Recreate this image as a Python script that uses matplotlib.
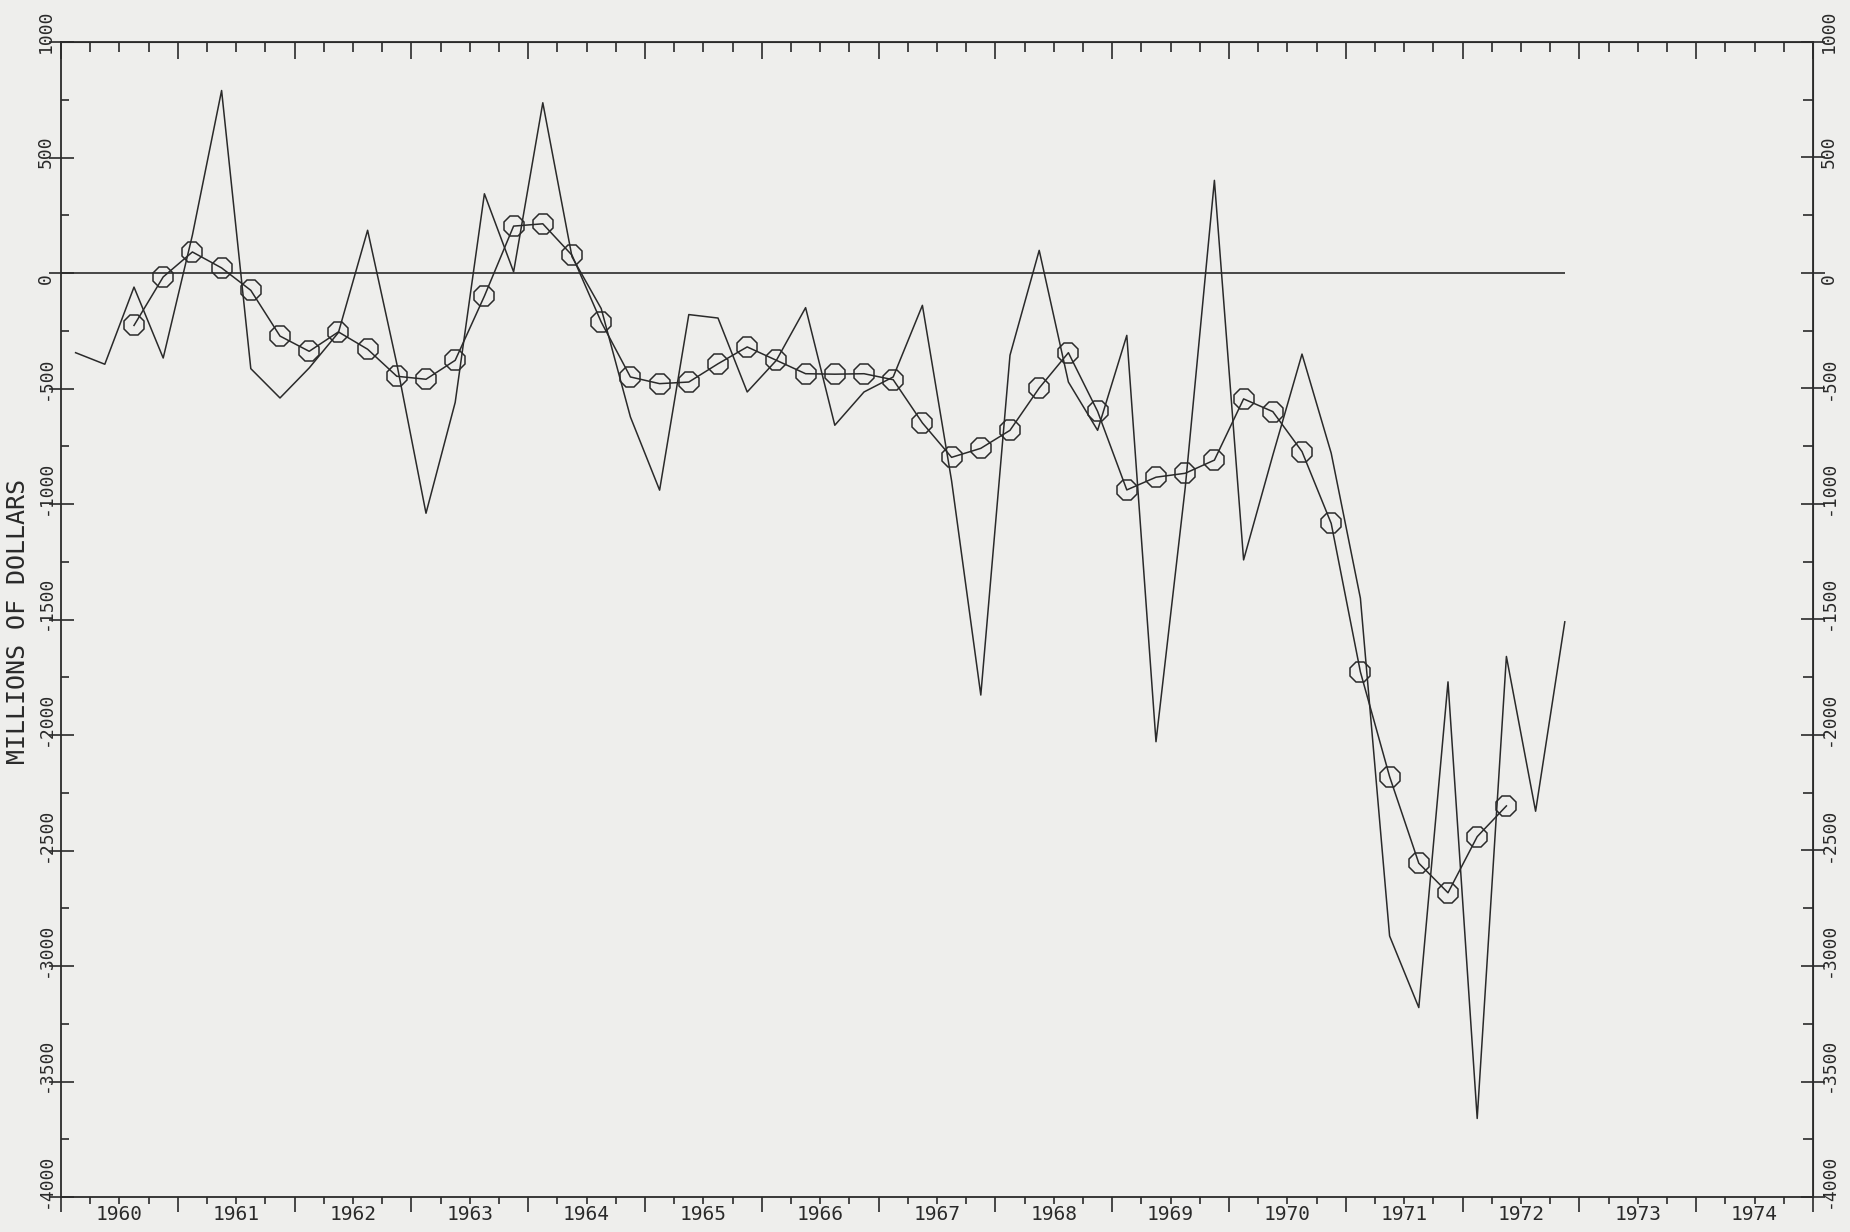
"""
Quarterly balance series, 1960-1972, raw values and smoothed trend,
redrawn in the style of an old pen-plotter chart.
"""

import numpy as np
import pandas as pd
import matplotlib
matplotlib.use("Agg")
import matplotlib.pyplot as plt
import matplotlib.transforms as mtransforms
from matplotlib.ticker import MultipleLocator, NullFormatter

# ── data (millions of dollars, quarterly) ───────────────────────────────────
QUARTERS = pd.period_range("1960Q1", "1972Q4", freq="Q")

RAW = [
    -345, -395, -61, -368,        # 1960
    164, 790, -414, -541,         # 1961
    -411, -258, 185, -393,        # 1962
    -1040, -560, 343, 5,          # 1963
    737, 70, -154, -623,          # 1964
    -940, -180, -195, -515,       # 1965
    -378, -150, -659, -515,       # 1966
    -450, -140, -900, -1827,      # 1967
    -356, 98, -472, -681,         # 1968
    -270, -2029, -930, 401,       # 1969
    -1242, -789, -351, -780,      # 1970
    -1408, -2870, -3180, -1770,   # 1971
    -3660, -1660, -2330, -1510,   # 1972
]

# smoothed trend, 1960Q3 .. 1972Q2
SMOOTH_START = "1960Q3"
SMOOTH = [
    -227, -17,
    91, 22, -75, -273,
    -339, -255, -330, -447,
    -460, -378, -100, 203,
    213, 77, -212, -450,
    -479, -472, -393, -320,
    -378, -436, -438, -436,
    -462, -649, -798, -759,
    -681, -498, -345, -599,
    -939, -884, -867, -810,
    -545, -600, -773, -1084,
    -1727, -2180, -2555, -2683,
    -2440, -2307,
]

YEARS = list(range(1960, 1975))
Y_TICKS = [1000, 500, 0, -500, -1000, -1500, -2000, -2500, -3000, -3500, -4000]

XMIN, XMAX = 1960, 1975
YMIN, YMAX = -4000, 1000

PAPER = "#eeeeec"
INK = "#2a2a2a"
FONT = "DejaVu Sans Mono"


def decimal_year(periods):
    # middle of each quarter
    return periods.year + (periods.quarter - 0.5) / 4.0


x_raw = decimal_year(QUARTERS)
smooth_periods = pd.period_range(SMOOTH_START, periods=len(SMOOTH), freq="Q")
x_smooth = decimal_year(smooth_periods)

# ── figure ───────────────────────────────────────────────────────────────────
fig = plt.figure(figsize=(18.5, 12.32), dpi=100, facecolor=PAPER)
ax = fig.add_axes([61 / 1850, 1 - 1197 / 1232, (1813 - 61) / 1850, (1197 - 42) / 1232])
ax.set_facecolor(PAPER)

ax.hlines(0, XMIN, x_raw[-1], color=INK, lw=1.2)
ax.plot(x_raw, RAW, color=INK, lw=1.1)
ax.plot(x_smooth, SMOOTH, color=INK, lw=1.1, marker="8", ms=16,
        mfc="none", mec=INK, mew=1.1)

ax.set_xlim(XMIN, XMAX)
ax.set_ylim(YMIN, YMAX)

for sp in ax.spines.values():
    sp.set_color(INK)
    sp.set_linewidth(1.3)

# bottom / left ticks
ax.xaxis.set_major_locator(MultipleLocator(1))
ax.xaxis.set_minor_locator(MultipleLocator(0.25))
ax.yaxis.set_major_locator(MultipleLocator(500))
ax.yaxis.set_minor_locator(MultipleLocator(250))
ax.xaxis.set_major_formatter(NullFormatter())
ax.yaxis.set_major_formatter(NullFormatter())
ax.tick_params(axis="x", which="major", direction="out", length=11, width=1.2, color=INK)
ax.tick_params(axis="x", which="minor", direction="out", length=5, width=1.2, color=INK)
ax.tick_params(axis="y", which="major", direction="inout", length=18, width=1.2, color=INK)
ax.tick_params(axis="y", which="minor", direction="in", length=6, width=1.2, color=INK)

# top / right ticks point inward
top = ax.secondary_xaxis("top")
top.xaxis.set_major_locator(MultipleLocator(1))
top.xaxis.set_minor_locator(MultipleLocator(0.25))
top.xaxis.set_major_formatter(NullFormatter())
top.tick_params(which="major", direction="in", length=12, width=1.2, color=INK)
top.tick_params(which="minor", direction="in", length=7, width=1.2, color=INK)
top.spines["top"].set_color(INK)

right = ax.secondary_yaxis("right")
right.yaxis.set_major_locator(MultipleLocator(500))
right.yaxis.set_minor_locator(MultipleLocator(250))
right.yaxis.set_major_formatter(NullFormatter())
right.tick_params(which="major", direction="inout", length=17, width=1.2, color=INK)
right.tick_params(which="minor", direction="in", length=7, width=1.2, color=INK)
right.spines["right"].set_color(INK)

# y tick labels, rotated, on both sides
base_l = mtransforms.blended_transform_factory(ax.transAxes, ax.transData)
off_l = mtransforms.ScaledTranslation(-0.15, -0.11, fig.dpi_scale_trans)
off_r = mtransforms.ScaledTranslation(0.16, -0.11, fig.dpi_scale_trans)
for v in Y_TICKS:
    ax.text(0, v, str(v), transform=base_l + off_l, rotation=90,
            ha="center", va="bottom", fontsize=13, family=FONT, color=INK)
    ax.text(1, v, str(v), transform=base_l + off_r, rotation=90,
            ha="center", va="bottom", fontsize=13, family=FONT, color=INK)

# year labels between the yearly ticks
base_b = mtransforms.blended_transform_factory(ax.transData, ax.transAxes)
off_b = mtransforms.ScaledTranslation(0, -0.08, fig.dpi_scale_trans)
for yr in YEARS:
    ax.text(yr + 0.5, 0, str(yr), transform=base_b + off_b,
            ha="center", va="top", fontsize=14, family=FONT, color=INK)

fig.text(18 / 1850, 1 - 622 / 1232, "MILLIONS OF DOLLARS", rotation=90,
         ha="center", va="center", fontsize=18, family=FONT, color=INK)

fig.savefig("out.png", dpi=100, facecolor=fig.get_facecolor())
